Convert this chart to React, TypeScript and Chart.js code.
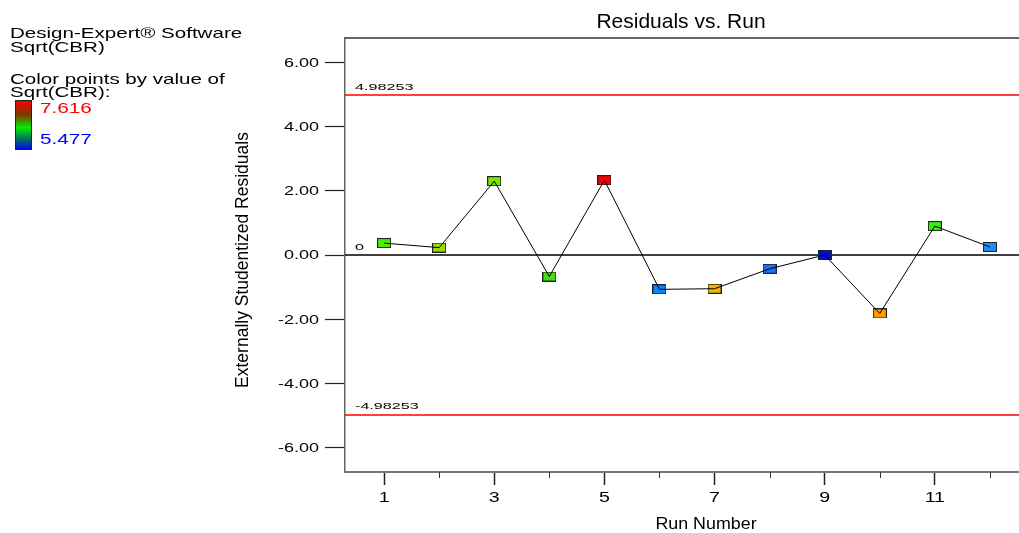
import React, { useEffect, useRef } from "react";
import { Chart, registerables } from "chart.js";

Chart.register(...registerables);

// ---------- data ----------
const RUN_NUMBERS = [1, 2, 3, 4, 5, 6, 7, 8, 9, 10, 11, 12];
const RESIDUALS = [0.37, 0.23, 2.3, -0.67, 2.33, -1.07, -1.05, -0.43, 0.0, -1.82, 0.9, 0.25];
const POINT_COLORS = [
  "#4cee00", "#96dc00", "#77e600", "#44dd11", "#ff0000", "#0a84ff",
  "#f2b400", "#1a6fff", "#0010cc", "#ff9a00", "#33ee11", "#1e8cff",
];
const Y_TICKS = [-6, -4, -2, 0, 2, 4, 6];
const X_TICKS = [1, 2, 3, 4, 5, 6, 7, 8, 9, 10, 11, 12];
const X_LABELED = [1, 3, 5, 7, 9, 11];
const LIMIT_UPPER = 4.98253;
const LIMIT_LOWER = -4.98253;
const LIMIT_UPPER_LABEL = "4.98253";
const LIMIT_LOWER_LABEL = "-4.98253";
const ZERO_LABEL = "0";
const Y_MIN = -6.76;
const Y_MAX = 6.76;
const X_MIN = 0.29;
const X_MAX = 12.71;
const CHART_TITLE = "Residuals vs. Run";
const X_TITLE = "Run Number";
const Y_TITLE = "Externally Studentized Residuals";
const LEGEND_LINES = ["Design-Expert® Software", "Sqrt(CBR)", "Color points by value of", "Sqrt(CBR):"];
const COLOR_MAX_LABEL = "7.616";
const COLOR_MIN_LABEL = "5.477";

const FONT = "'Liberation Sans', Arial, sans-serif";

function drawText(
  ctx: CanvasRenderingContext2D,
  text: string,
  x: number,
  y: number,
  size: number,
  sx: number,
  color: string,
  align: CanvasTextAlign = "left"
) {
  ctx.save();
  ctx.font = `${size}px ${FONT}`;
  ctx.fillStyle = color;
  ctx.textBaseline = "alphabetic";
  ctx.textAlign = align;
  ctx.translate(x, y);
  ctx.scale(sx, 1);
  ctx.fillText(text, 0, 0);
  ctx.restore();
}

function makeMarker(color: string): HTMLCanvasElement {
  const c = document.createElement("canvas");
  c.width = 14;
  c.height = 10;
  const g = c.getContext("2d")!;
  g.fillStyle = color;
  g.fillRect(0.5, 0.5, 13, 9);
  g.strokeStyle = "#222";
  g.lineWidth = 1;
  g.strokeRect(0.5, 0.5, 13, 9);
  return c;
}

const decorPlugin = {
  id: "decor",
  beforeDatasetsDraw(chart: any) {
    const { ctx, chartArea, scales } = chart;
    const { left, right } = chartArea;
    const y = scales.y;
    ctx.save();
    ctx.strokeStyle = "#ff0000";
    ctx.lineWidth = 1.5;
    [LIMIT_UPPER, LIMIT_LOWER].forEach((v) => {
      const py = y.getPixelForValue(v);
      ctx.beginPath();
      ctx.moveTo(left, py);
      ctx.lineTo(right, py);
      ctx.stroke();
    });
    const pz = y.getPixelForValue(0);
    ctx.strokeStyle = "#000";
    ctx.lineWidth = 1.5;
    ctx.beginPath();
    ctx.moveTo(left, pz);
    ctx.lineTo(right, pz);
    ctx.stroke();
    ctx.restore();

    drawText(ctx, LIMIT_UPPER_LABEL, left + 10, y.getPixelForValue(LIMIT_UPPER) - 5.5, 8.5, 1.9, "#000");
    drawText(ctx, LIMIT_LOWER_LABEL, left + 10, y.getPixelForValue(LIMIT_LOWER) - 5.5, 8.5, 1.9, "#000");
    drawText(ctx, ZERO_LABEL, left + 10, pz - 5.5, 8.5, 1.9, "#000");
  },
  afterDraw(chart: any) {
    const { ctx, chartArea, scales } = chart;
    const { left, right, top, bottom } = chartArea;
    const x = scales.x;
    const y = scales.y;
    ctx.save();
    ctx.strokeStyle = "#333";
    ctx.lineWidth = 1.5;
    ctx.beginPath();
    ctx.moveTo(left, top);
    ctx.lineTo(right, top);
    ctx.stroke();
    ctx.strokeStyle = "#333";
    ctx.lineWidth = 1;
    X_TICKS.filter((v) => !X_LABELED.includes(v)).forEach((v) => {
      const px = Math.round(x.getPixelForValue(v)) + 0.5;
      ctx.beginPath();
      ctx.moveTo(px, bottom);
      ctx.lineTo(px, bottom + 6);
      ctx.stroke();
    });
    ctx.restore();

    // tick labels (stretched like the reference)
    Y_TICKS.forEach((v) => {
      drawText(ctx, v.toFixed(2), left - 26, y.getPixelForValue(v) + 4.3, 12, 1.5, "#000", "right");
    });
    X_LABELED.forEach((v) => {
      drawText(ctx, String(v), x.getPixelForValue(v), 502, 14, 1.4, "#000", "center");
    });

    // titles
    drawText(ctx, CHART_TITLE, 681, 28, 21, 1, "#000", "center");
    drawText(ctx, X_TITLE, 706, 529, 17, 1.05, "#000", "center");
    ctx.save();
    ctx.translate(247.5, 260);
    ctx.rotate(-Math.PI / 2);
    drawText(ctx, Y_TITLE, 0, 0, 17.5, 1, "#000", "center");
    ctx.restore();

    // left legend
    const baselines = [38.3, 51.7, 84, 97.3];
    LEGEND_LINES.forEach((t, i) => drawText(ctx, t, 10, baselines[i], 15, 1.37, "#000"));
    const grad = ctx.createLinearGradient(0, 100, 0, 150);
    grad.addColorStop(0, "#ff0000");
    grad.addColorStop(0.3, "#7a3a00");
    grad.addColorStop(0.55, "#00ee00");
    grad.addColorStop(0.8, "#006666");
    grad.addColorStop(1, "#0000ff");
    ctx.save();
    ctx.fillStyle = grad;
    ctx.fillRect(15, 100, 17, 50);
    ctx.strokeStyle = "#222";
    ctx.lineWidth = 1;
    ctx.strokeRect(15.5, 100.5, 16, 49);
    ctx.restore();
    drawText(ctx, COLOR_MAX_LABEL, 40, 112.7, 15, 1.38, "#ff0000");
    drawText(ctx, COLOR_MIN_LABEL, 40, 144, 15, 1.38, "#0000ff");
  },
};

export default function App() {
  const canvasRef = useRef<HTMLCanvasElement | null>(null);

  useEffect(() => {
    const canvas = canvasRef.current;
    if (!canvas) return;
    const points = RUN_NUMBERS.map((r, i) => ({ x: r, y: RESIDUALS[i] }));
    const markers = POINT_COLORS.map(makeMarker);

    const chart = new Chart(canvas, {
      type: "scatter",
      data: {
        datasets: [
          {
            type: "line",
            data: points,
            borderColor: "#000",
            borderWidth: 1,
            pointRadius: 0,
            fill: false,
            tension: 0,
            order: 0,
          } as any,
          {
            data: points,
            pointStyle: markers as any,
            pointRadius: 7,
            showLine: false,
            order: 1,
          } as any,
        ],
      },
      options: {
        responsive: false,
        animation: false,
        events: [],
        layout: { padding: { top: 38, left: 0, right: 0, bottom: 0 } },
        plugins: {
          legend: { display: false },
          title: { display: false },
          tooltip: { enabled: false },
        },
        scales: {
          x: {
            type: "linear",
            min: X_MIN,
            max: X_MAX,
            afterBuildTicks: (s: any) => {
              s.ticks = X_TICKS.map((v) => ({ value: v }));
            },
            afterFit: (s: any) => {
              s.height = 61;
            },
            ticks: {
              autoSkip: false,
              maxRotation: 0,
              padding: 4,
              callback: () => "",
            },
            grid: {
              drawOnChartArea: false,
              tickLength: 13,
              tickWidth: 1.5,
              tickColor: (c: any) =>
                c.tick && X_LABELED.includes(c.tick.value) ? "#222" : "rgba(0,0,0,0)",
            },
            border: { color: "#777", width: 2 },
          },
          y: {
            type: "linear",
            min: Y_MIN,
            max: Y_MAX,
            afterBuildTicks: (s: any) => {
              s.ticks = Y_TICKS.map((v) => ({ value: v }));
            },
            afterFit: (s: any) => {
              s.width = 345;
            },
            ticks: {
              padding: 4,
              callback: () => "",
            },
            grid: {
              drawOnChartArea: false,
              tickLength: 20,
              tickWidth: 1.2,
              tickColor: "#222",
            },
            border: { color: "#666", width: 1.5 },
          },
        },
      } as any,
      plugins: [decorPlugin],
    });
    return () => chart.destroy();
  }, []);

  return (
    <div
      style={{
        position: "absolute",
        left: 0,
        top: 0,
        width: 1019,
        height: 533,
        overflow: "hidden",
        background: "#fff",
      }}
    >
      <canvas ref={canvasRef} width={1037} height={533} style={{ display: "block" }} />
    </div>
  );
}
